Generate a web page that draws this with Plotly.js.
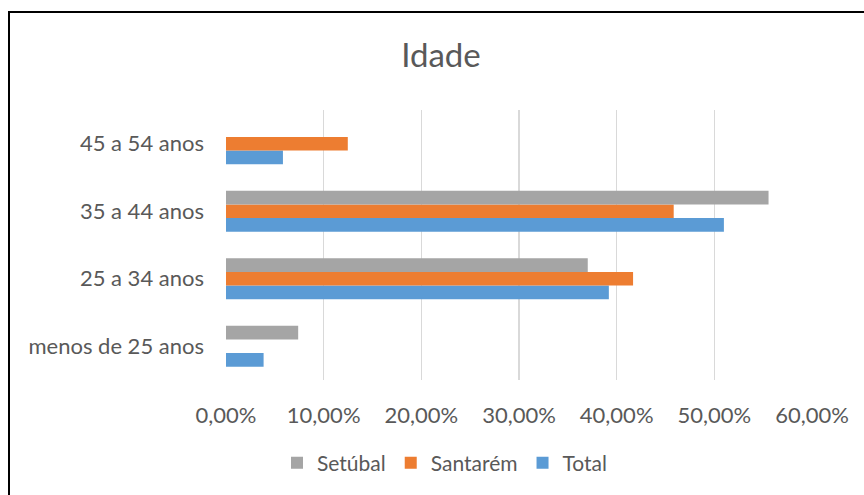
<!DOCTYPE html>
<html>
<head>
<meta charset="utf-8">
<script src="https://cdn.plot.ly/plotly-3.0.1.min.js"></script>
<style>
  html, body { margin: 0; padding: 0; background: #fff; }
  #wrap { position: relative; width: 864px; height: 495px; overflow: hidden; }
  #chart { position: absolute; left: 0; top: 0; width: 864px; height: 495px; }
  #frame { position: absolute; left: 8px; top: 11px; width: 900px; height: 600px;
           border-left: 2px solid #000; border-top: 2px solid #000; pointer-events: none; }
</style>
</head>
<body>
<div id="wrap">
  <div id="chart"></div>
  <div id="frame"></div>
</div>
<script>
const categories = ["menos de 25 anos", "25 a 34 anos", "35 a 44 anos", "45 a 54 anos"];
const totalValues = [0.0385, 0.392, 0.5098, 0.0583];
const santaremValues = [null, 0.4168, 0.4584, 0.1247];
const setubalValues = [0.0739, 0.3704, 0.5555, null];
const seriesNames = ["Total", "Santarém", "Setúbal"];
const seriesColors = ["#5B9BD5", "#ED7D31", "#A5A5A5"];
const xTickValues = [0, 0.1, 0.2, 0.3, 0.4, 0.5, 0.6];

const seriesValues = [totalValues, santaremValues, setubalValues];
const traces = seriesValues.map((vals, i) => ({
  type: 'bar',
  orientation: 'h',
  name: seriesNames[i],
  y: categories,
  x: vals,
  marker: { color: seriesColors[i], line: { width: 0 } },
  hoverinfo: 'x+y+name'
}));

const fontFamily = 'Lato, "Open Sans", sans-serif';
const layout = {
  width: 864,
  height: 495,
  margin: { l: 226, r: 51.5, t: 110, b: 115 },
  paper_bgcolor: '#fff',
  plot_bgcolor: '#fff',
  separators: ',.',
  font: { family: fontFamily, color: '#595959', size: 21 },
  title: {
    text: 'Idade',
    font: { family: fontFamily, size: 33, color: '#595959' },
    xref: 'container', x: 441 / 864, xanchor: 'center',
    yref: 'container', y: 1 - 55 / 495, yanchor: 'middle'
  },
  barmode: 'group',
  bargap: 0.393,
  bargroupgap: 0,
  xaxis: {
    range: [0, 0.6],
    tickvals: xTickValues,
    tickformat: '.2%',
    showgrid: true,
    gridcolor: '#D9D9D9',
    gridwidth: 1.5,
    zeroline: false,
    showline: false,
    ticks: '',
    ticklabelstandoff: 20,
    tickfont: { size: 22, color: '#595959' },
    fixedrange: true
  },
  yaxis: {
    type: 'category',
    categoryorder: 'array',
    categoryarray: categories,
    showgrid: false,
    zeroline: false,
    showline: false,
    ticks: '',
    ticklabelstandoff: 21,
    tickfont: { size: 22, color: '#595959' },
    fixedrange: true
  },
  showlegend: true,
  legend: {
    orientation: 'h',
    traceorder: 'reversed',
    xref: 'container', x: 445 / 864, xanchor: 'center',
    yref: 'container', y: 1 - 463 / 495, yanchor: 'middle',
    font: { size: 21, color: '#595959' },
    itemwidth: 20,
    tracegroupgap: 0
  }
};

Plotly.newPlot('chart', traces, layout, { displayModeBar: false, staticPlot: true });
</script>
</body>
</html>
